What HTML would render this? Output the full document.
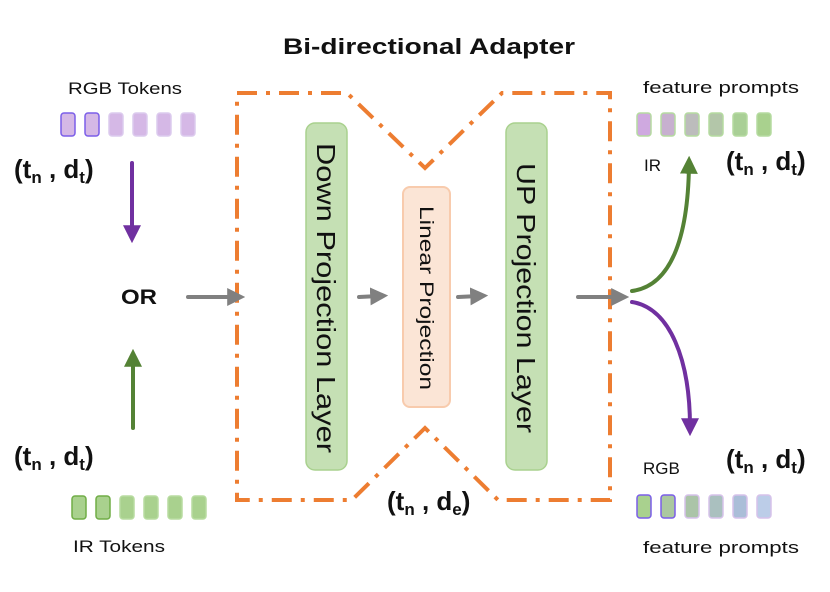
<!DOCTYPE html>
<html><head><meta charset="utf-8"><style>
html,body{margin:0;padding:0;background:#fff;}
svg{display:block;}
text{font-family:"Liberation Sans","DejaVu Sans",sans-serif;fill:#111;}
</style></head><body>
<svg width="830" height="592" viewBox="0 0 830 592" xmlns="http://www.w3.org/2000/svg">
<defs>
<marker id="ag" markerWidth="4.5" markerHeight="4.5" refX="2.2" refY="2.25" orient="auto" markerUnits="strokeWidth"><path d="M0,0 L4.5,2.25 L0,4.5 Z" fill="#808080"/></marker>
<marker id="agr" markerWidth="4.5" markerHeight="4.5" refX="2.2" refY="2.25" orient="auto" markerUnits="strokeWidth"><path d="M0,0 L4.5,2.25 L0,4.5 Z" fill="#548235"/></marker>
<marker id="ap" markerWidth="4.5" markerHeight="4.5" refX="2.2" refY="2.25" orient="auto" markerUnits="strokeWidth"><path d="M0,0 L4.5,2.25 L0,4.5 Z" fill="#7030a0"/></marker>
</defs>

<text x="283" y="54" font-size="22" font-weight="bold" textLength="292" lengthAdjust="spacingAndGlyphs">Bi-directional   Adapter</text>

<path d="M237,93 L347,93 L425,168 L502,93 L610,93 L610,500 L498,500 L425,428 L352,500 L237,500 Z" fill="none" stroke="#ed7d31" stroke-width="4" stroke-dasharray="20,9,4,9"/>

<rect x="306" y="123" width="41" height="347" rx="9" fill="#c5e0b4" stroke="#a9d18e" stroke-width="1.5"/>
<rect x="506" y="123" width="41" height="347" rx="9" fill="#c5e0b4" stroke="#a9d18e" stroke-width="1.5"/>
<rect x="403" y="187" width="47" height="220" rx="7" fill="#fbe5d6" stroke="#f8cbad" stroke-width="2"/>
<text transform="translate(317,143) rotate(90)" font-size="26" textLength="310" lengthAdjust="spacingAndGlyphs">Down Projection Layer</text>
<text transform="translate(517,163) rotate(90)" font-size="26" textLength="270" lengthAdjust="spacingAndGlyphs">UP Projection Layer</text>
<text transform="translate(420,206) rotate(90)" font-size="19" textLength="184" lengthAdjust="spacingAndGlyphs">Linear Projection</text>

<g stroke="#808080" stroke-width="4" stroke-linecap="round" fill="none">
<line x1="188" y1="297" x2="236" y2="297" marker-end="url(#ag)"/>
<line x1="359" y1="297" x2="379" y2="296" marker-end="url(#ag)"/>
<line x1="458" y1="297" x2="479" y2="296" marker-end="url(#ag)"/>
<line x1="578" y1="297" x2="620" y2="297" marker-end="url(#ag)"/>
</g>

<line x1="132" y1="163" x2="132" y2="234" stroke="#7030a0" stroke-width="4" stroke-linecap="round" marker-end="url(#ap)"/>
<line x1="133" y1="428" x2="133" y2="358" stroke="#548235" stroke-width="4" stroke-linecap="round" marker-end="url(#agr)"/>

<path d="M632,291 C670,286 688,240 689,165" fill="none" stroke="#548235" stroke-width="4" stroke-linecap="round" marker-end="url(#agr)"/>
<path d="M632,302 C670,308 690,360 690,427" fill="none" stroke="#7030a0" stroke-width="4" stroke-linecap="round" marker-end="url(#ap)"/>

<text x="121" y="304" font-size="21" font-weight="bold" textLength="36" lengthAdjust="spacingAndGlyphs">OR</text>

<g stroke-width="1.5">
<rect x="61" y="113" width="14" height="23" rx="3" fill="#d5b8e6" stroke="#7b5ee8"/>
<rect x="85" y="113" width="14" height="23" rx="3" fill="#d5b8e6" stroke="#7b5ee8"/>
<rect x="109" y="113" width="14" height="23" rx="3" fill="#d5b8e6" stroke="#dccbee"/>
<rect x="133" y="113" width="14" height="23" rx="3" fill="#d5b8e6" stroke="#dccbee"/>
<rect x="157" y="113" width="14" height="23" rx="3" fill="#d5b8e6" stroke="#dccbee"/>
<rect x="181" y="113" width="14" height="23" rx="3" fill="#d5b8e6" stroke="#dccbee"/>

<rect x="72" y="496" width="14" height="23" rx="3" fill="#a9d18e" stroke="#70ad47"/>
<rect x="96" y="496" width="14" height="23" rx="3" fill="#a9d18e" stroke="#70ad47"/>
<rect x="120" y="496" width="14" height="23" rx="3" fill="#a9d18e" stroke="#b8dca0"/>
<rect x="144" y="496" width="14" height="23" rx="3" fill="#a9d18e" stroke="#b8dca0"/>
<rect x="168" y="496" width="14" height="23" rx="3" fill="#a9d18e" stroke="#b8dca0"/>
<rect x="192" y="496" width="14" height="23" rx="3" fill="#a9d18e" stroke="#b8dca0"/>

<rect x="637" y="113" width="14" height="23" rx="3" fill="#cfa9e0" stroke="#b5dba0"/>
<rect x="661" y="113" width="14" height="23" rx="3" fill="#c7b0cf" stroke="#b5dba0"/>
<rect x="685" y="113" width="14" height="23" rx="3" fill="#bcbcbc" stroke="#b5dba0"/>
<rect x="709" y="113" width="14" height="23" rx="3" fill="#b3c6a9" stroke="#b5dba0"/>
<rect x="733" y="113" width="14" height="23" rx="3" fill="#a9cf96" stroke="#b5dba0"/>
<rect x="757" y="113" width="14" height="23" rx="3" fill="#a9d18e" stroke="#b5dba0"/>

<rect x="637" y="495" width="14" height="23" rx="3" fill="#a9d18e" stroke="#7b5ee8"/>
<rect x="661" y="495" width="14" height="23" rx="3" fill="#abc8a0" stroke="#7b5ee8"/>
<rect x="685" y="495" width="14" height="23" rx="3" fill="#abc4a8" stroke="#d6c2ea"/>
<rect x="709" y="495" width="14" height="23" rx="3" fill="#aac0bf" stroke="#d6c2ea"/>
<rect x="733" y="495" width="14" height="23" rx="3" fill="#aabed8" stroke="#d6c2ea"/>
<rect x="757" y="495" width="14" height="23" rx="3" fill="#bccde8" stroke="#d6c2ea"/>
</g>

<text x="68" y="94" font-size="17" textLength="114" lengthAdjust="spacingAndGlyphs">RGB Tokens</text>
<text x="73" y="552" font-size="17" textLength="92" lengthAdjust="spacingAndGlyphs">IR Tokens</text>
<text x="643" y="93" font-size="17" textLength="156" lengthAdjust="spacingAndGlyphs">feature prompts</text>
<text x="643" y="553" font-size="17" textLength="156" lengthAdjust="spacingAndGlyphs">feature prompts</text>
<text x="644" y="171" font-size="17">IR</text>
<text x="643" y="474" font-size="17">RGB</text>

<g font-size="26" font-weight="bold">
<text x="14" y="178">(t<tspan font-size="17" dy="5">n</tspan><tspan dy="-5"> , d</tspan><tspan font-size="17" dy="5">t</tspan><tspan dy="-5">)</tspan></text>
<text x="14" y="465">(t<tspan font-size="17" dy="5">n</tspan><tspan dy="-5"> , d</tspan><tspan font-size="17" dy="5">t</tspan><tspan dy="-5">)</tspan></text>
<text x="726" y="170">(t<tspan font-size="17" dy="5">n</tspan><tspan dy="-5"> , d</tspan><tspan font-size="17" dy="5">t</tspan><tspan dy="-5">)</tspan></text>
<text x="726" y="468">(t<tspan font-size="17" dy="5">n</tspan><tspan dy="-5"> , d</tspan><tspan font-size="17" dy="5">t</tspan><tspan dy="-5">)</tspan></text>
<text x="387" y="510">(t<tspan font-size="17" dy="5">n</tspan><tspan dy="-5"> , d</tspan><tspan font-size="17" dy="5">e</tspan><tspan dy="-5">)</tspan></text>
</g>
</svg>
</body></html>
